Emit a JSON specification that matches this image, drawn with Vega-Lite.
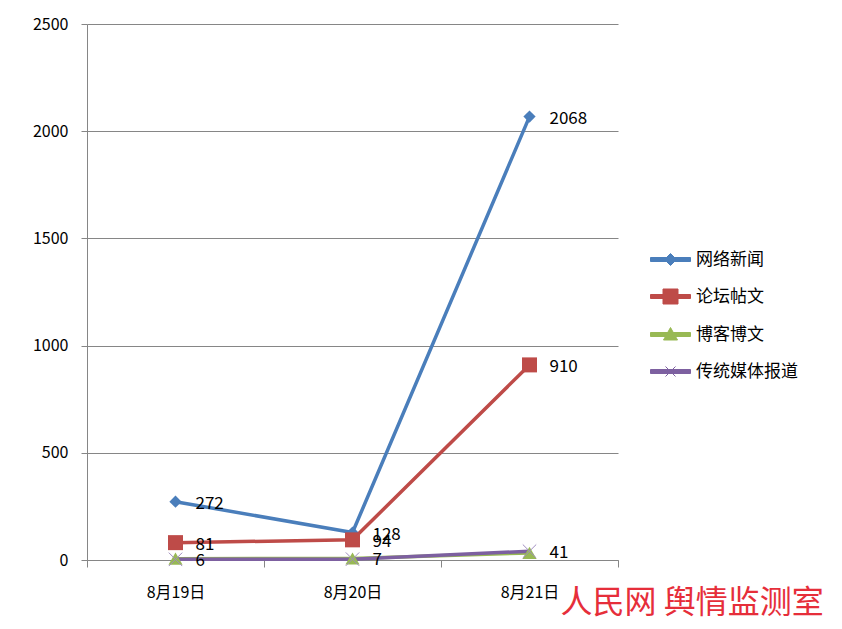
{
  "$schema": "https://vega.github.io/schema/vega-lite/v6.json",
  "width": 531,
  "height": 536,
  "autosize": "none",
  "padding": {"left": 87, "top": 24, "right": 224, "bottom": 69},
  "background": "white",
  "title": {
    "text": "人民网 舆情监测室",
    "orient": "bottom",
    "anchor": "start",
    "align": "left",
    "color": "#e62e3a",
    "fontSize": 32,
    "font": "Noto Sans CJK SC",
    "fontWeight": "normal",
    "offset": -12,
    "dx": 528
  },
  "data": {
    "values": [
      {"date": "8月19日", "series": "网络新闻", "value": 272, "label": "272"},
      {"date": "8月20日", "series": "网络新闻", "value": 128, "label": "128"},
      {"date": "8月21日", "series": "网络新闻", "value": 2068, "label": "2068"},
      {"date": "8月19日", "series": "论坛帖文", "value": 81, "label": "81"},
      {"date": "8月20日", "series": "论坛帖文", "value": 94, "label": "94"},
      {"date": "8月21日", "series": "论坛帖文", "value": 910, "label": "910"},
      {"date": "8月19日", "series": "博客博文", "value": 6, "label": "6"},
      {"date": "8月20日", "series": "博客博文", "value": 7, "label": "7"},
      {"date": "8月21日", "series": "博客博文", "value": 33, "label": ""},
      {"date": "8月19日", "series": "传统媒体报道", "value": 3, "label": ""},
      {"date": "8月20日", "series": "传统媒体报道", "value": 4, "label": ""},
      {"date": "8月21日", "series": "传统媒体报道", "value": 41, "label": "41"}
    ]
  },
  "encoding": {
    "x": {
      "field": "date",
      "type": "nominal",
      "sort": null,
      "scale": {"type": "band", "paddingInner": 0, "paddingOuter": 0},
      "axis": {
        "title": null,
        "labelAngle": 0,
        "tickBand": "extent",
        "tickSize": 7,
        "tickColor": "#868686",
        "domainColor": "#868686",
        "labelFontSize": 16,
        "labelPadding": 17,
        "labelColor": "#000000",
        "labelFont": "Noto Sans CJK SC",
        "grid": false
      }
    },
    "y": {
      "field": "value",
      "type": "quantitative",
      "scale": {"domain": [0, 2500], "nice": false},
      "axis": {
        "title": null,
        "values": [0, 500, 1000, 1500, 2000, 2500],
        "format": "d",
        "grid": true,
        "gridColor": "#868686",
        "tickColor": "#868686",
        "domainColor": "#868686",
        "tickSize": 6,
        "labelPadding": 13,
        "labelFontSize": 16,
        "labelColor": "#000000",
        "labelFont": "Noto Sans CJK SC"
      }
    }
  },
  "layer": [
    {
      "mark": {"type": "line", "strokeWidth": 3.5},
      "encoding": {
        "color": {
          "field": "series",
          "type": "nominal",
          "sort": null,
          "scale": {
            "domain": ["网络新闻", "论坛帖文", "博客博文", "传统媒体报道"],
            "range": ["#4a7ebb", "#be4b48", "#98b954", "#7d60a0"]
          },
          "legend": {
            "title": null,
            "orient": "none",
            "legendX": 563,
            "legendY": 225,
            "symbolSize": 400,
            "labelFontSize": 17,
            "labelFont": "Noto Sans CJK SC",
            "labelColor": "#000000",
            "labelOffset": 25,
            "rowPadding": 18,
            "symbolStrokeWidth": 1,
            "encode": {
              "symbols": {
                "update": {
                  "shape": {"signal": "datum.value === '网络新闻' ? 'M-1,-0.2H3V0.2H-1Z M1,-0.6L1.6,0L1,0.6L0.4,0Z' : datum.value === '论坛帖文' ? 'M-1,-0.2H3V0.2H-1Z M0.25,-0.75H1.75V0.75H0.25Z' : datum.value === '博客博文' ? 'M-1,-0.2H3V0.2H-1Z M1,-0.7L1.7,0.55H0.3Z' : 'M-1,-0.2H3V0.2H-1Z M0.5,-0.5L1.5,0.5M0.5,0.5L1.5,-0.5'"},
                  "fill": {"signal": "scale('color', datum.value)"},
                  "stroke": {"signal": "scale('color', datum.value)"},
                  "fillOpacity": {"value": 1},
                  "strokeWidth": {"value": 1}
                }
              }
            }
          }
        }
      }
    },
    {
      "transform": [{"filter": {"field": "series", "equal": "网络新闻"}}],
      "mark": {"type": "point", "filled": true, "shape": "diamond", "size": 150, "color": "#4a7ebb", "opacity": 1}
    },
    {
      "transform": [{"filter": {"field": "series", "equal": "论坛帖文"}}],
      "mark": {"type": "point", "filled": true, "shape": "square", "size": 225, "color": "#be4b48", "opacity": 1}
    },
    {
      "transform": [{"filter": {"field": "series", "equal": "博客博文"}}],
      "mark": {"type": "point", "filled": true, "shape": "triangle-up", "size": 200, "color": "#98b954", "opacity": 1}
    },
    {
      "transform": [{"filter": {"field": "series", "equal": "传统媒体报道"}}],
      "mark": {"type": "point", "filled": false, "shape": "M-1,-1L1,1M-1,1L1,-1", "size": 180, "color": "#9f8cc0", "strokeWidth": 1, "opacity": 1}
    },
    {
      "mark": {"type": "text", "align": "left", "baseline": "middle", "dx": 20, "dy": 2, "fontSize": 17, "font": "Noto Sans CJK SC", "color": "#000000"},
      "encoding": {
        "text": {"field": "label"}
      }
    }
  ],
  "config": {
    "view": {"stroke": null}
  }
}
